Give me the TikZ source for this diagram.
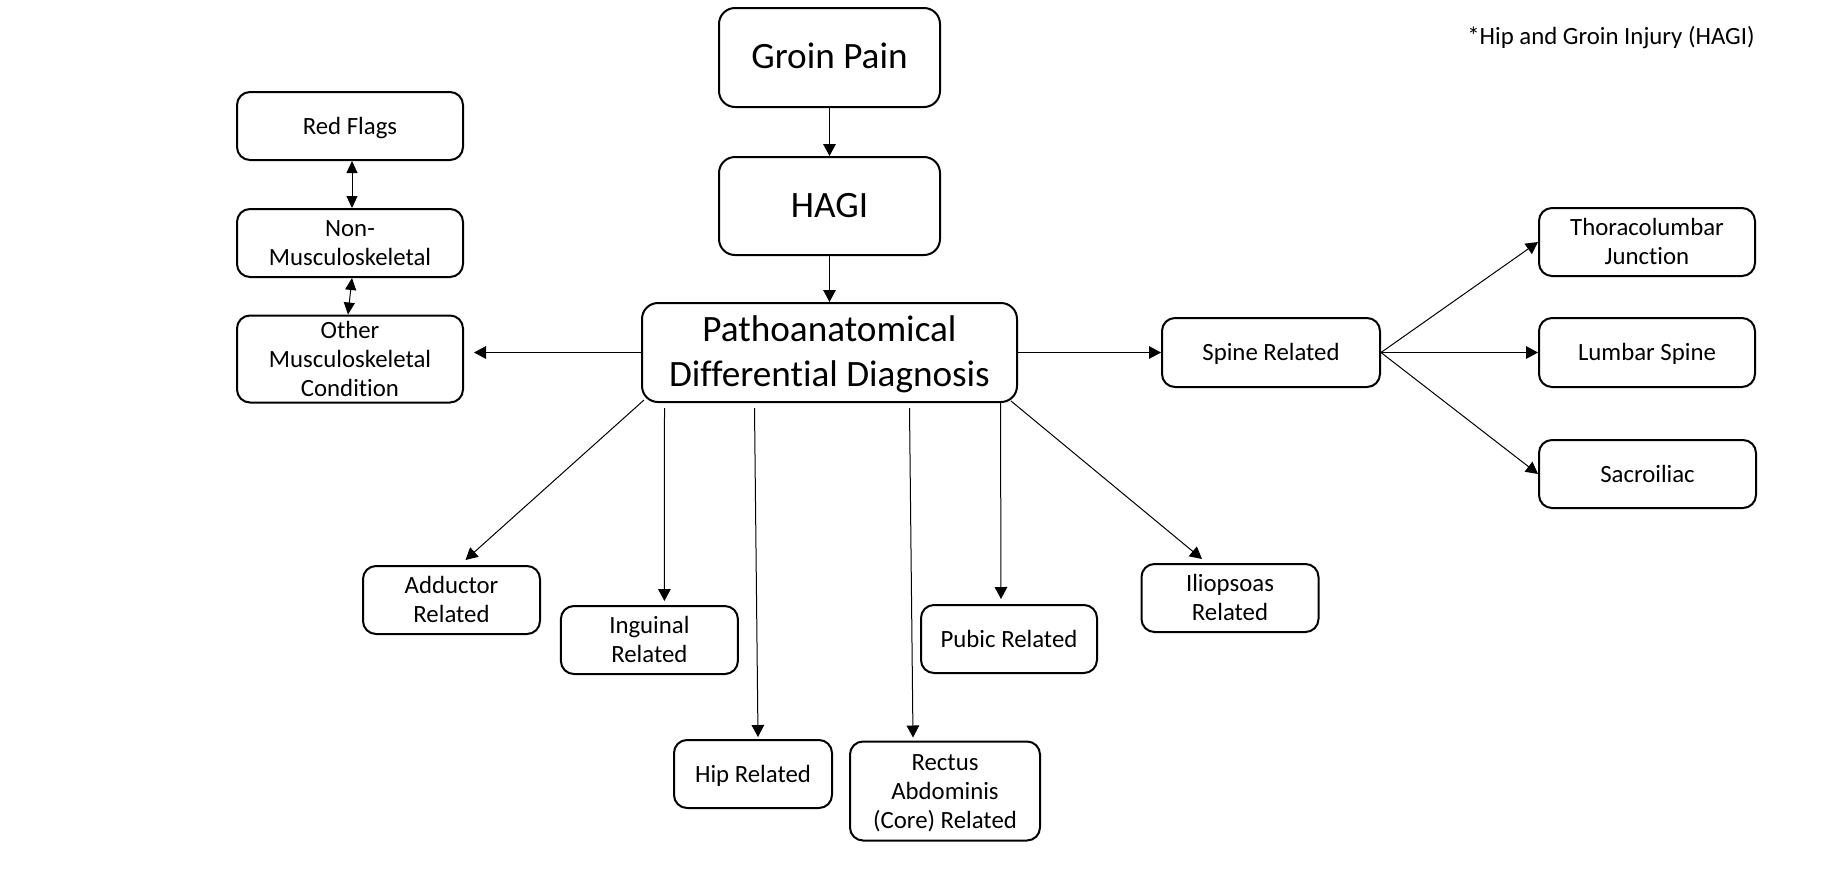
\documentclass[tikz,border=0pt]{standalone}
\usepackage{fontspec}
\setmainfont{Carlito}[Ligatures=NoCommon]
\usetikzlibrary{arrows.meta,calc}
\newcommand\boxtxt[1]{\raisebox{-1.2pt}[\height][\depth]{\begin{tabular}{@{}c@{}}#1\end{tabular}}}
\begin{document}
\begin{tikzpicture}[x=0.5pt,y=-0.5pt,
  box/.style={draw,line width=1pt,rounded corners=6.5pt,inner sep=0pt,font=\fontsize{12.4}{14.5}\selectfont},
  bigbox/.style={box,rounded corners=8pt,font=\fontsize{18.6}{22.7}\selectfont},
  arr/.style={-{Triangle[width=6.3pt,length=6pt]},line width=0.5pt},
  darr/.style={{Triangle[width=5.5pt,length=6pt]}-{Triangle[width=5.5pt,length=6pt]},line width=0.5pt},
  notetext/.style={font=\fontsize{12.4}{14}\selectfont,inner sep=0pt}]
\useasboundingbox (0,0) rectangle (1828,874);
% main column
\node[bigbox,minimum width=110.5pt,minimum height=49.5pt] (groin) at (829.5,57.5) {\boxtxt{Groin Pain}};
\node[bigbox,minimum width=110.5pt,minimum height=49pt] (hagi) at (829.5,206) {\boxtxt{HAGI}};
\node[bigbox,minimum width=187.5pt,minimum height=49.5pt] (patho) at (829.5,352.5) {\boxtxt{Pathoanatomical\\Differential Diagnosis}};
% left column
\node[box,minimum width=113pt,minimum height=34pt] (red) at (350,126) {\boxtxt{Red Flags}};
\node[box,minimum width=113pt,minimum height=34pt] (nonmusc) at (350,243) {\boxtxt{Non-\\Musculoskeletal}};
\node[box,minimum width=113pt,minimum height=43pt] (other) at (350,359) {\boxtxt{Other\\Musculoskeletal\\Condition}};
% right side
\node[box,minimum width=109pt,minimum height=34.5pt] (spine) at (1271,352.5) {\boxtxt{Spine Related}};
\node[box,minimum width=108pt,minimum height=34pt] (thor) at (1647,242) {\boxtxt{Thoracolumbar\\Junction}};
\node[box,minimum width=108pt,minimum height=34.5pt] (lumbar) at (1647,352.5) {\boxtxt{Lumbar Spine}};
\node[box,minimum width=108.5pt,minimum height=34pt] (sacro) at (1647.5,474) {\boxtxt{Sacroiliac}};
% bottom
\node[box,minimum width=88.5pt,minimum height=34pt] (adductor) at (451.5,600) {\boxtxt{Adductor\\Related}};
\node[box,minimum width=88.5pt,minimum height=34pt] (inguinal) at (649.4,640) {\boxtxt{Inguinal\\Related}};
\node[box,minimum width=79pt,minimum height=34pt] (hip) at (753,774) {\boxtxt{Hip Related}};
\node[box,minimum width=95pt,minimum height=49.5pt] (rectus) at (945,791) {\boxtxt{Rectus\\Abdominis\\(Core) Related}};
\node[box,minimum width=88pt,minimum height=34pt] (pubic) at (1009,639) {\boxtxt{Pubic Related}};
\node[box,minimum width=88.5pt,minimum height=34pt] (ilio) at (1230,598) {\boxtxt{Iliopsoas\\Related}};
% note
\node[notetext] (note) at (1611,38) {*Hip and Groin Injury (HAGI)};
% connectors
\draw[arr] (groin) -- (hagi);
\draw[arr] (hagi) -- (patho);
\draw[darr] ($(red.south)+(2,0)$) -- ($(nonmusc.north)+(2,0)$);
\draw[darr] ($(nonmusc.south)+(2,0)$) -- ($(other.north)+(-2,0)$);
\draw[arr] (patho.west) -- ($(patho.west -| other.east)+(10,0)$);
\draw[arr] (patho.east) -- (patho.east -| spine.west);
\draw[arr] (spine.east) -- (thor.west);
\draw[arr] (spine.east) -- (lumbar.west);
\draw[arr] (spine.east) -- (sacro.west);
\draw[arr] ($(patho.south west)+(3,-3)$) -- ($(adductor.north)+(14,-5)$);
\draw[arr] ($(patho.south)+(-165,5)$) -- ($(inguinal.north)+(15,-4)$);
\draw[arr] ($(patho.south)+(-75,5)$) -- ($(hip.north)+(5,-2)$);
\draw[arr] ($(patho.south)+(80,5)$) -- ($(rectus.north)+(-32,-3)$);
\draw[arr] ($(patho.south)+(171,0)$) -- ($(pubic.north)+(-8,-5)$);
\draw[arr] ($(patho.south east)+(-7,-2)$) -- ($(ilio.north)+(-28,-4)$);
\end{tikzpicture}
\end{document}
